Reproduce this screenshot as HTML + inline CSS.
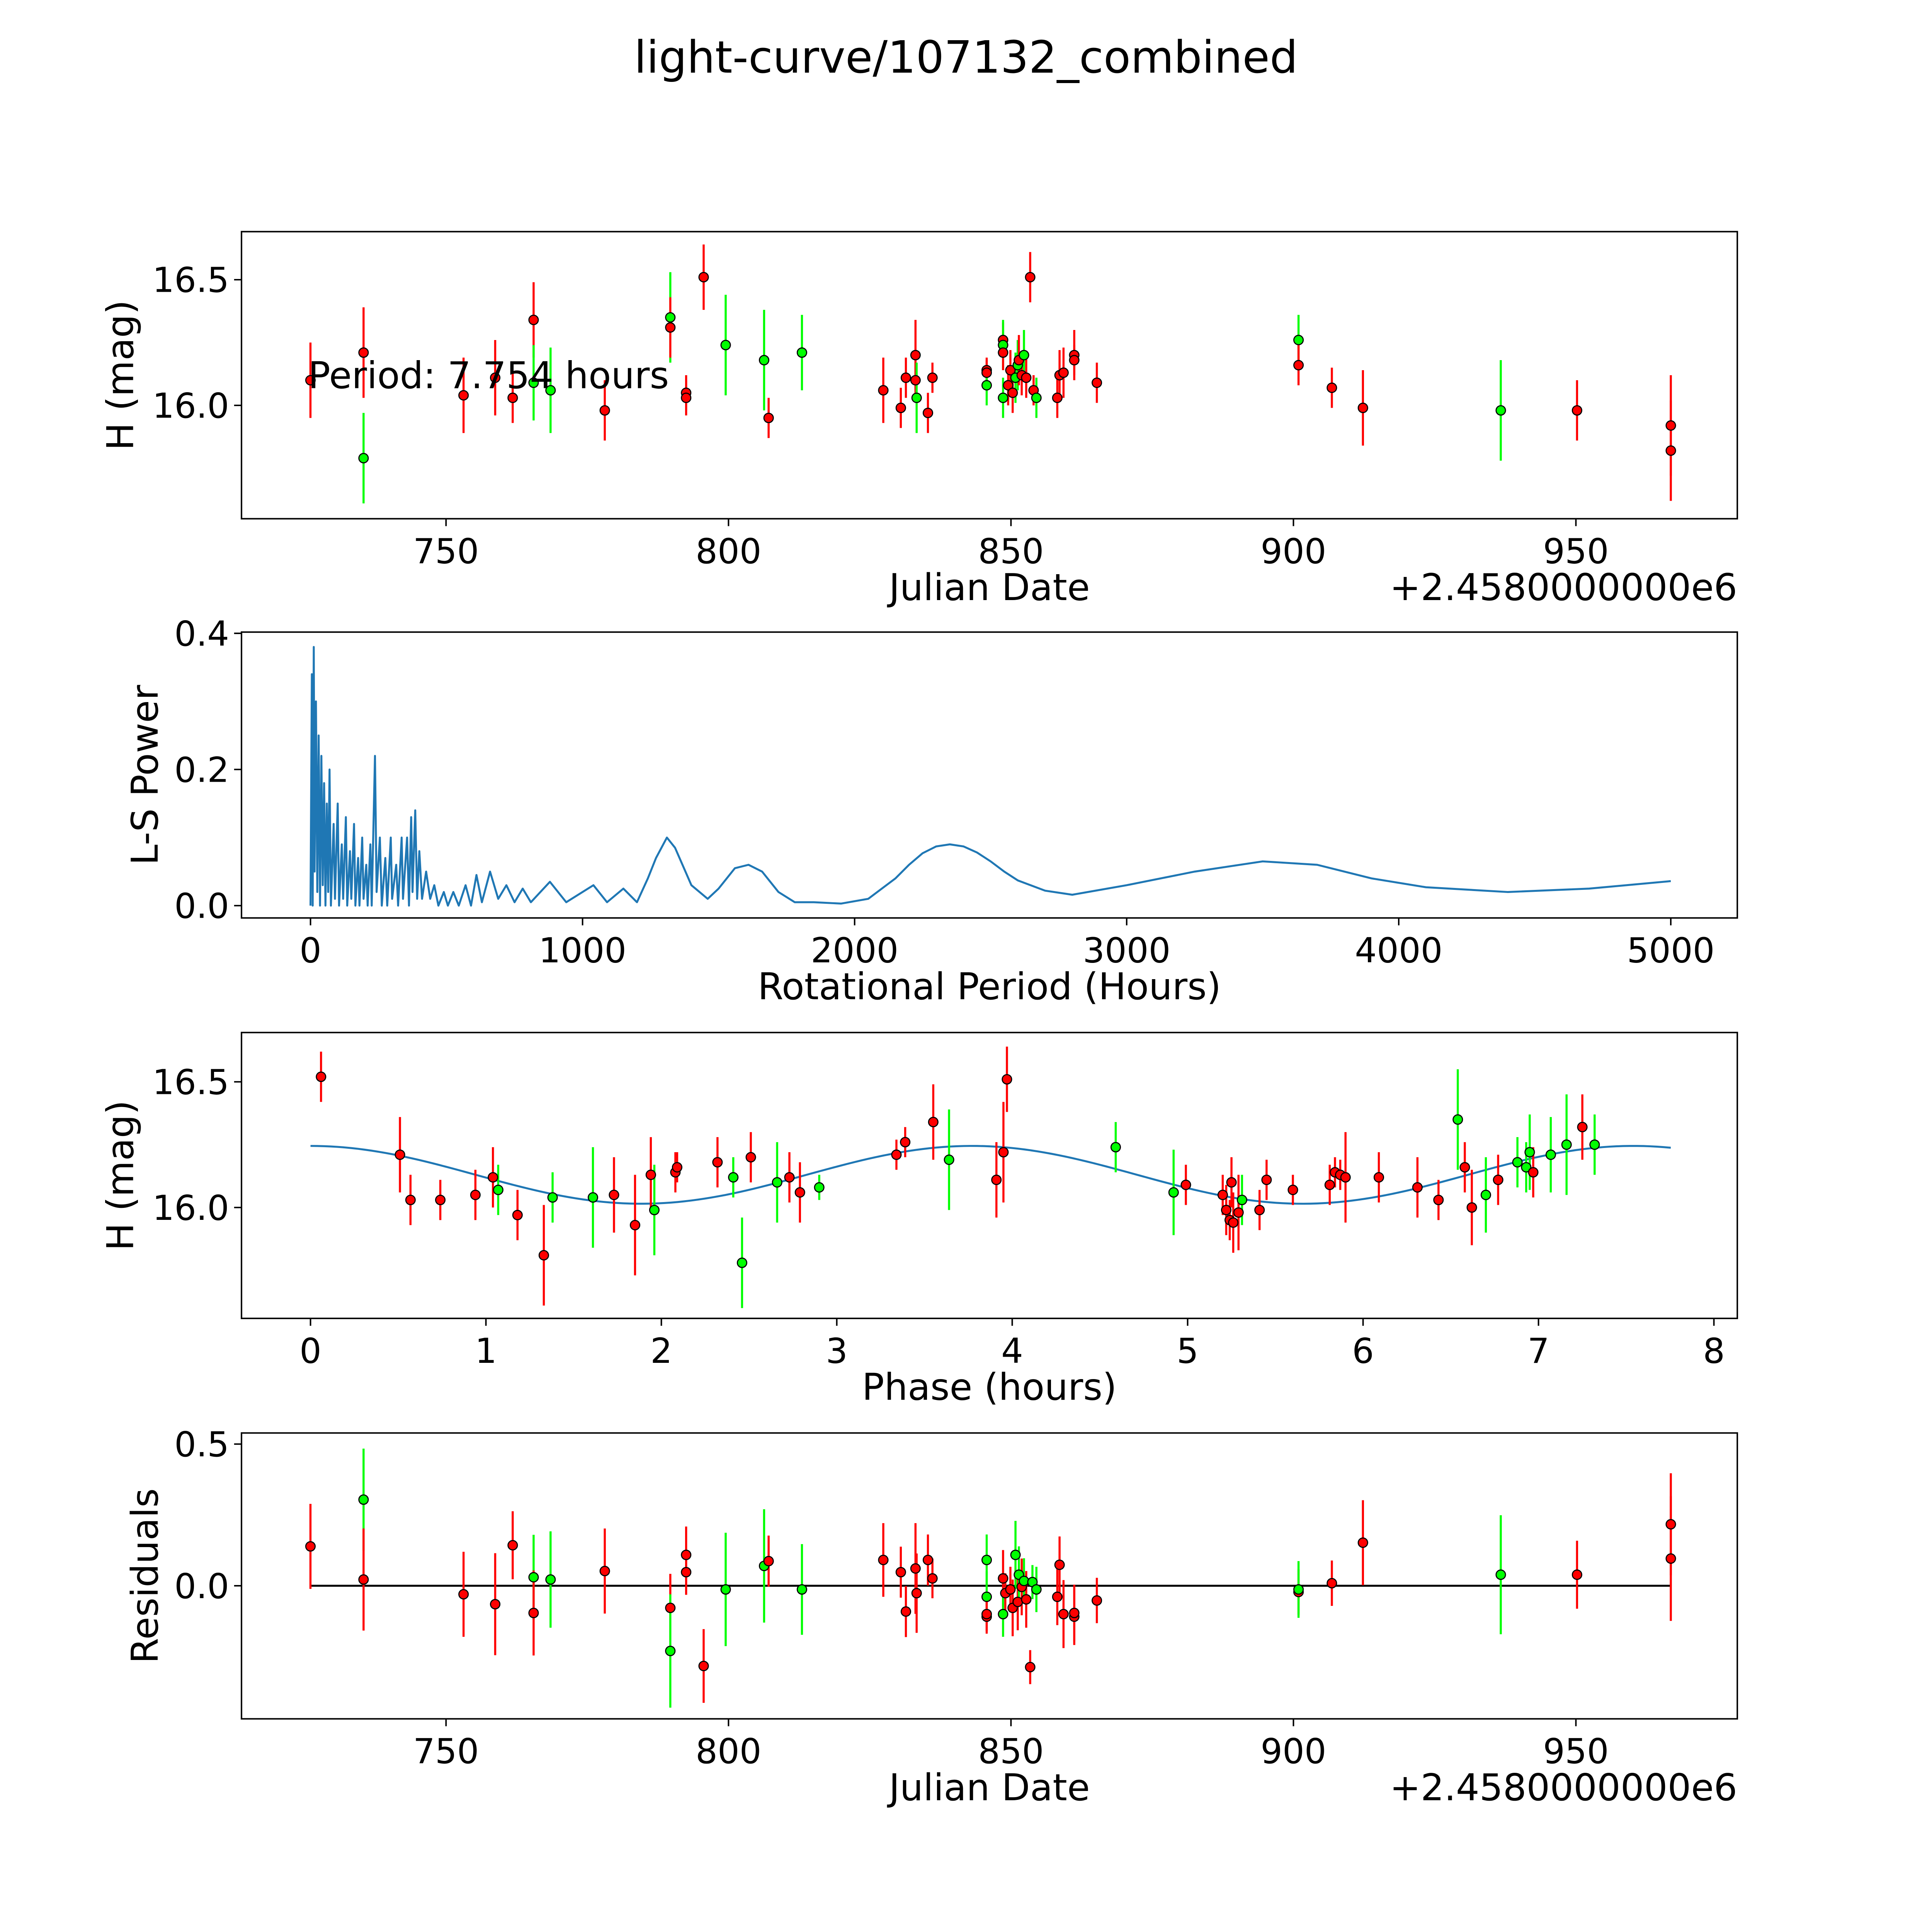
<!DOCTYPE html>
<html><head><meta charset="utf-8"><style>html,body{margin:0;padding:0;background:#fff;overflow:hidden;width:100vw;height:100vh}svg{display:block;width:100vw;height:100vh}</style></head>
<body>
<svg id="fig" xmlns="http://www.w3.org/2000/svg" viewBox="0 0 1568 1568" preserveAspectRatio="xMinYMin meet" font-family="'DejaVu Sans','Liberation Sans',sans-serif">
<rect width="1568" height="1568" fill="#fff"/>
<text x="784" y="59" font-size="36" text-anchor="middle">light-curve/107132_combined</text>
</svg>
<script>
// ---------- Panel 1 data: light curve ----------
const lcDates=[726.0,735.4,735.4,753.1,758.7,761.8,765.5,765.5,768.5,778.1,789.7,789.7,792.5,792.5,795.6,799.5,806.3,807.1,813.0,827.4,830.5,831.4,833.1,833.1,833.3,835.3,836.1,845.7,845.7,845.7,848.6,848.6,848.6,848.6,849.5,849.9,850.3,850.8,851.2,851.4,851.9,852.3,852.7,853.4,854.0,854.5,858.2,858.6,859.3,861.2,861.2,865.2,900.9,900.9,906.8,912.3,936.7,950.2,966.8,966.8];
const lcMags=[16.10,16.21,15.79,16.04,16.11,16.03,16.34,16.09,16.06,15.98,16.35,16.31,16.05,16.03,16.51,16.24,16.18,15.95,16.21,16.06,15.99,16.11,16.20,16.10,16.03,15.97,16.11,16.14,16.13,16.08,16.26,16.24,16.21,16.03,16.08,16.14,16.05,16.11,16.16,16.18,16.12,16.20,16.11,16.51,16.06,16.03,16.03,16.12,16.13,16.20,16.18,16.09,16.26,16.16,16.07,15.99,15.98,15.98,15.92,15.82];
const lcErrs=[0.15,0.18,0.18,0.15,0.15,0.1,0.15,0.15,0.17,0.12,0.18,0.12,0.07,0.07,0.13,0.2,0.2,0.08,0.15,0.13,0.08,0.08,0.14,0.08,0.14,0.08,0.06,0.05,0.05,0.08,0.07,0.1,0.07,0.08,0.08,0.08,0.08,0.1,0.1,0.1,0.08,0.1,0.08,0.1,0.06,0.08,0.08,0.1,0.1,0.1,0.06,0.08,0.1,0.08,0.08,0.15,0.2,0.12,0.2,0.2];
const lcColors=["r","r","g","r","r","r","r","g","g","r","g","r","r","r","r","g","g","r","g","r","r","r","r","r","g","r","r","r","r","g","r","g","r","g","r","r","r","g","g","r","r","g","r","r","r","g","r","r","r","r","r","r","g","r","r","r","g","r","r","r"];
// ---------- Panel 2 data: periodogram ----------
const lsPeriods=[0,5,8,12,15,20,25,30,35,40,45,50,55,60,65,70,75,85,90,100,105,115,120,130,135,145,150,160,165,175,180,190,195,205,210,220,225,237,243,255,262,275,282,295,300,315,322,335,340,355,362,370,375,385,392,400,410,425,440,455,470,490,505,525,545,570,590,610,630,660,690,720,750,780,810,880,940,1040,1090,1150,1200,1240,1270,1310,1340,1400,1460,1500,1560,1610,1660,1720,1780,1850,1950,2050,2150,2200,2250,2300,2350,2400,2450,2500,2550,2600,2700,2800,3000,3250,3500,3700,3900,4100,4400,4700,5000];
const lsPower=[0,0.34,0.0,0.38,0.05,0.3,0.02,0.25,0.0,0.22,0.03,0.18,0.0,0.15,0.02,0.2,0,0.12,0.01,0.15,0,0.09,0.01,0.13,0,0.08,0.01,0.12,0,0.07,0,0.1,0.01,0.06,0,0.09,0,0.22,0.02,0.1,0.0,0.07,0,0.1,0.01,0.06,0,0.1,0.01,0.1,0,0.13,0.02,0.14,0.01,0.08,0.01,0.05,0.01,0.03,0.0,0.02,0,0.02,0,0.03,0,0.045,0.005,0.05,0.01,0.03,0.005,0.025,0.005,0.035,0.005,0.03,0.005,0.025,0.005,0.04,0.07,0.1,0.085,0.03,0.01,0.025,0.055,0.06,0.05,0.02,0.005,0.005,0.003,0.01,0.04,0.06,0.077,0.087,0.09,0.087,0.078,0.065,0.05,0.037,0.022,0.016,0.03,0.05,0.065,0.06,0.04,0.027,0.02,0.025,0.036];
// ---------- Panel 3 data: phased ----------
const phPhase=[0.06,0.51,0.57,0.74,0.94,1.04,1.07,1.18,1.33,1.38,1.61,1.73,1.85,1.94,1.96,2.08,2.09,2.32,2.41,2.51,2.46,2.66,2.73,2.79,2.90,3.34,3.39,3.55,3.64,3.91,3.95,3.97,4.59,4.92,4.99,5.20,5.22,5.24,5.25,5.26,5.29,5.31,5.41,5.45,5.60,5.81,5.84,5.87,5.90,6.09,6.31,6.43,6.54,6.58,6.62,6.70,6.77,6.88,6.93,6.95,6.97,7.07,7.16,7.25,7.32];
const phMags=[16.52,16.21,16.03,16.03,16.05,16.12,16.07,15.97,15.81,16.04,16.04,16.05,15.93,16.13,15.99,16.14,16.16,16.18,16.12,16.20,15.78,16.10,16.12,16.06,16.08,16.21,16.26,16.34,16.19,16.11,16.22,16.51,16.24,16.06,16.09,16.05,15.99,15.95,16.10,15.94,15.98,16.03,15.99,16.11,16.07,16.09,16.14,16.13,16.12,16.12,16.08,16.03,16.35,16.16,16.00,16.05,16.11,16.18,16.16,16.22,16.14,16.21,16.25,16.32,16.25];
const phErrs=[0.1,0.15,0.1,0.08,0.1,0.12,0.1,0.1,0.2,0.1,0.2,0.15,0.2,0.15,0.18,0.08,0.06,0.1,0.08,0.1,0.18,0.16,0.1,0.12,0.05,0.06,0.06,0.15,0.2,0.15,0.2,0.13,0.1,0.17,0.08,0.08,0.1,0.08,0.1,0.12,0.15,0.1,0.08,0.08,0.06,0.08,0.06,0.06,0.18,0.1,0.12,0.08,0.2,0.1,0.15,0.15,0.1,0.1,0.1,0.15,0.1,0.15,0.2,0.13,0.12];
const phColors=["r","r","r","r","r","r","g","r","r","g","g","r","r","r","g","r","r","r","g","r","g","g","r","r","g","r","r","r","g","r","r","r","g","g","r","r","r","r","r","r","r","g","r","r","r","r","r","r","r","r","r","r","g","r","r","g","r","g","g","g","r","g","g","r","g"];
const fitMean=[16.13], fitAmp=[0.115], fitPeriod=[3.77], fitLen=[7.754];
// ---------- Panel 4 data: residuals ----------
const resDates=[726.0,735.4,735.4,753.1,758.7,761.8,765.5,765.5,768.5,778.1,789.7,789.7,792.5,792.5,795.6,799.5,806.3,807.1,813.0,827.4,830.5,831.4,833.1,833.3,835.3,836.1,845.7,845.7,845.7,845.7,848.6,848.6,849.0,849.9,850.3,850.8,851.2,851.4,851.9,852.3,852.7,853.4,853.8,854.5,858.2,858.6,859.3,861.2,861.2,865.2,900.9,900.9,906.8,912.3,936.7,950.2,966.8,966.8];
const resVals=[0.139,0.304,0.022,-0.030,-0.065,0.143,0.030,-0.096,0.022,0.052,-0.078,-0.230,0.109,0.048,-0.283,-0.013,0.070,0.087,-0.013,0.091,0.048,-0.091,0.061,-0.026,0.091,0.026,0.091,-0.039,-0.109,-0.100,0.026,-0.100,-0.026,-0.013,-0.078,0.109,-0.057,0.039,-0.004,0.017,-0.048,-0.287,0.013,-0.013,-0.039,0.074,-0.100,-0.109,-0.096,-0.052,-0.022,-0.013,0.009,0.152,0.039,0.039,0.217,0.096];
const resErrs=[0.15,0.18,0.18,0.15,0.18,0.12,0.15,0.15,0.17,0.15,0.12,0.2,0.1,0.08,0.13,0.2,0.2,0.09,0.16,0.13,0.09,0.09,0.16,0.14,0.09,0.07,0.09,0.09,0.06,0.06,0.1,0.08,0.07,0.08,0.1,0.12,0.1,0.1,0.1,0.08,0.1,0.06,0.06,0.08,0.1,0.1,0.12,0.1,0.1,0.08,0.08,0.1,0.08,0.15,0.21,0.12,0.18,0.22];
const resColors=["r","g","r","r","r","r","g","r","g","r","r","g","r","r","r","g","g","r","g","r","r","r","r","r","r","r","g","g","r","r","r","g","r","r","r","g","r","g","r","g","r","r","g","g","r","r","r","r","r","r","r","g","r","r","g","r","r","r"];
// tick labels
const jdTicks=[750,800,850,900,950];
const lcYTicks=[16.0,16.5];
const lsXTicks=[0,1000,2000,3000,4000,5000];
const lsYTicks=[0.0,0.2,0.4];
const phXTicks=[0,1,2,3,4,5,6,7,8];
const resYTicks=[0.0,0.5];

const svg=document.getElementById('fig');
const NS='http://www.w3.org/2000/svg';
function mk(tag,attrs,parent){const e=document.createElementNS(NS,tag);for(const k in attrs)e.setAttribute(k,attrs[k]);(parent||svg).appendChild(e);return e;}
const L=196,R=1410;
function lin(d0,d1,p0,p1){return v=>p0+(v-d0)*(p1-p0)/(d1-d0);}
const xJD=lin(750,950,362,1279);
const colMap={r:'#ff0000',g:'#00ff00'};

function frame(name,top,bot,xs,xticks,xfmt,ys,yticks,yfmt,xlabel,ylabel,ylabX){
  const g=mk('g',{});
  
  
  for(const t of xticks){const x=xs(t);
    const tk=mk('line',{x1:x,x2:x,y1:bot,y2:bot+6,stroke:'#000','stroke-width':1.2},g);
    
    const tx=mk('text',{x:x,y:bot+36,'font-size':28,'text-anchor':'middle'},g);tx.textContent=xfmt(t);
    }
  for(const t of yticks){const y=ys(t);
    const tk=mk('line',{x1:L-6,x2:L,y1:y,y2:y,stroke:'#000','stroke-width':1.2},g);
    
    const tx=mk('text',{x:L-10,y:y+10,'font-size':28,'text-anchor':'end'},g);tx.textContent=yfmt(t);
    }
  const xl=mk('text',{x:(L+R)/2,y:bot+66,'font-size':30,'text-anchor':'middle'},g);xl.textContent=xlabel;
  
  const cy=(top+bot)/2;
  const yl=mk('text',{x:ylabX,y:cy,'font-size':30,'text-anchor':'middle',transform:`rotate(-90 ${ylabX} ${cy})`},g);yl.textContent=ylabel;
  
  return g;
}
function border(top,bot){const b=mk('rect',{x:L,y:top,width:R-L,height:bot-top,fill:'none',stroke:'#000','stroke-width':1.2});
  }
function points(xsArr,ysArr,errs,cols,xs,ys,name){
  const g=mk('g',{});
  
  
  for(let i=0;i<xsArr.length;i++){const x=xs(xsArr[i]),c=colMap[cols[i]];
    const l=mk('line',{x1:x,x2:x,y1:ys(ysArr[i]-errs[i]),y2:ys(ysArr[i]+errs[i]),stroke:c,'stroke-width':1.7},g);
    }
  for(let i=0;i<xsArr.length;i++){const x=xs(xsArr[i]),c=colMap[cols[i]];
    const p=mk('circle',{cx:x,cy:ys(ysArr[i]),r:3.8,fill:c,stroke:'#000','stroke-width':0.9},g);
    }
}
const f1=v=>v.toFixed(1);
// Panel 1
const y1=lin(16.0,16.5,329,227);
frame('light-curve-panel',188,421,xJD,jdTicks,String,y1,lcYTicks,f1,'Julian Date','H (mag)',108);
points(lcDates,lcMags,lcErrs,lcColors,xJD,y1,'light-curve-points');
const per=mk('text',{x:250,y:315,'font-size':30});per.textContent='Period: 7.754 hours';

const off1=mk('text',{x:R,y:487,'font-size':30,'text-anchor':'end'});off1.textContent='+2.4580000000e6';

border(188,421);
// Panel 2
const x2=lin(0,5000,252,1356),y2=lin(0,0.4,735,514);
frame('periodogram-panel',513,745,x2,lsXTicks,String,y2,lsYTicks,f1,'Rotational Period (Hours)','L-S Power',128);
const pts=lsPeriods.map((p,i)=>x2(p).toFixed(2)+','+y2(lsPower[i]).toFixed(2)).join(' ');
const pl=mk('polyline',{points:pts,fill:'none',stroke:'#1f77b4','stroke-width':1.6,'stroke-linejoin':'round'});

border(513,745);
// Panel 3
const x3=lin(0,8,252,1391),y3=lin(16.0,16.5,980,878);
frame('phase-panel',838,1070,x3,phXTicks,String,y3,lcYTicks,f1,'Phase (hours)','H (mag)',108);
let fp=[];for(let k=0;k<=200;k++){const t=fitLen[0]*k/200;fp.push(x3(t).toFixed(2)+','+y3(fitMean[0]+fitAmp[0]*Math.cos(2*Math.PI*(t-fitPeriod[0])/fitPeriod[0])).toFixed(2));}
const fl=mk('polyline',{points:fp.join(' '),fill:'none',stroke:'#1f77b4','stroke-width':1.6});

points(phPhase,phMags,phErrs,phColors,x3,y3,'phase-points');
border(838,1070);
// Panel 4
const y4=lin(0,0.5,1287,1172);
frame('residuals-panel',1163,1395,xJD,jdTicks,String,y4,resYTicks,f1,'Julian Date','Residuals',128);
const zl=mk('line',{x1:xJD(726.0),x2:xJD(966.8),y1:y4(0),y2:y4(0),stroke:'#000','stroke-width':1.6});

points(resDates,resVals,resErrs,resColors,xJD,y4,'residual-points');
const off4=mk('text',{x:R,y:1461,'font-size':30,'text-anchor':'end'});off4.textContent='+2.4580000000e6';

border(1163,1395);
</script>
</body></html>
